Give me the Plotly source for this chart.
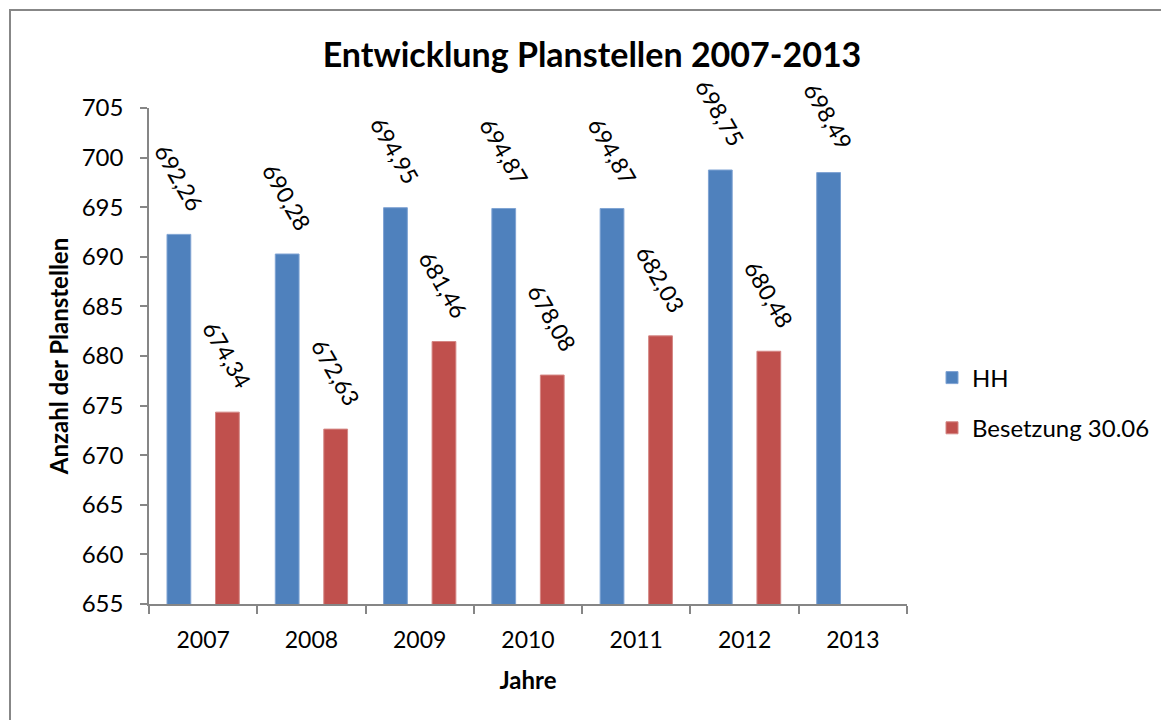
import plotly.graph_objects as go

years = ["2007", "2008", "2009", "2010", "2011", "2012", "2013"]
hh = [692.26, 690.28, 694.95, 694.87, 694.87, 698.75, 698.49]
besetzung = [674.34, 672.63, 681.46, 678.08, 682.03, 680.48, None]
series_names = ["HH", "Besetzung 30.06"]
colors = ["#4F81BD", "#C0504D"]
edge_colors = ["#7FA3D3", "#D48684"]
y_ticks = list(range(655, 710, 5))

FONT = "Lato, 'Open Sans', sans-serif"

# the page body has an 8px margin; lay out in page pixels and compensate
OFF = 8
PAGE_W, PAGE_H = 1169, 720
W, H = PAGE_W - OFF, PAGE_H - OFF
PL, PR, PT, PB = 149, 907, 108, 604  # plot area in page pixels
L, T = PL - OFF, PT - OFF
R = W - (PR - OFF)
B = H - (PB - OFF)
pw, ph = W - L - R, H - T - B

fig = go.Figure()
for name, vals, c, ec, grp in zip(series_names, [hh, besetzung], colors, edge_colors, ["a", "b"]):
    fig.add_trace(go.Bar(
        x=years, y=vals, name=name, legendgroup=grp,
        marker=dict(color=c, line=dict(color=ec, width=1)),
        hoverinfo="skip",
    ))

def fmt(v):
    return f"{v:.2f}".replace(".", ",")

annotations = []
slot_off = 24.3
for vals, shift in [(hh, -slot_off), (besetzung, slot_off)]:
    for i, v in enumerate(vals):
        if v is None:
            continue
        annotations.append(dict(
            x=i, y=v, xref="x", yref="y", text=fmt(v), showarrow=False,
            textangle=60, xanchor="center", yanchor="middle",
            xshift=shift, yshift=57,
            font=dict(family=FONT, size=23, color="#000000"),
        ))

fig.update_layout(
    width=W, height=H,
    margin=dict(l=L, r=R, t=T, b=B, autoexpand=False),
    paper_bgcolor="white", plot_bgcolor="white",
    font=dict(family=FONT, size=23, color="#000000"),
    barmode="group", bargap=0.104, bargroupgap=0.51,
    title=dict(text="<b>Entwicklung Planstellen 2007-2013</b>",
               x=(592 - OFF) / W, xanchor="center", xref="container",
               y=1 - (55 - OFF) / H, yanchor="middle", yref="container",
               font=dict(family=FONT, size=34, color="#000000")),
    showlegend=True,
    legend=dict(x=(932 - PL) / pw, xanchor="left", y=(PB - 403) / ph, yanchor="middle",
                font=dict(family=FONT, size=24, color="#000000"),
                tracegroupgap=16, bgcolor="rgba(0,0,0,0)"),
    annotations=annotations,
    shapes=[dict(type="rect", xref="paper", yref="paper",
                 x0=(10 - PL) / pw, x1=1.6, y0=-0.6, y1=(PB - 10) / ph,
                 line=dict(color="#878787", width=2), fillcolor="rgba(0,0,0,0)", layer="below")],
)

fig.update_xaxes(
    type="category", range=[-0.5, 6.5],
    showline=True, linecolor="#868686", linewidth=1.5,
    ticks="outside", tickson="boundaries", ticklen=8, tickcolor="#868686", tickwidth=1.5,
    showgrid=False, zeroline=False,
    ticklabelstandoff=15,
    tickfont=dict(family=FONT, size=23, color="#000000"),
    title=dict(text="<b>Jahre</b>", standoff=20, font=dict(family=FONT, size=24, color="#000000")),
)
fig.update_yaxes(
    range=[655, 705], tickvals=y_ticks,
    showline=True, linecolor="#868686", linewidth=1.5,
    ticks="outside", ticklen=7, tickcolor="#868686", tickwidth=1.5,
    showgrid=False, zeroline=False,
    ticklabelstandoff=12,
    tickfont=dict(family=FONT, size=24, color="#000000"),
    title=dict(text="<b>Anzahl der Planstellen</b>", standoff=6, font=dict(family=FONT, size=24, color="#000000")),
)

fig.write_html("out.html")
